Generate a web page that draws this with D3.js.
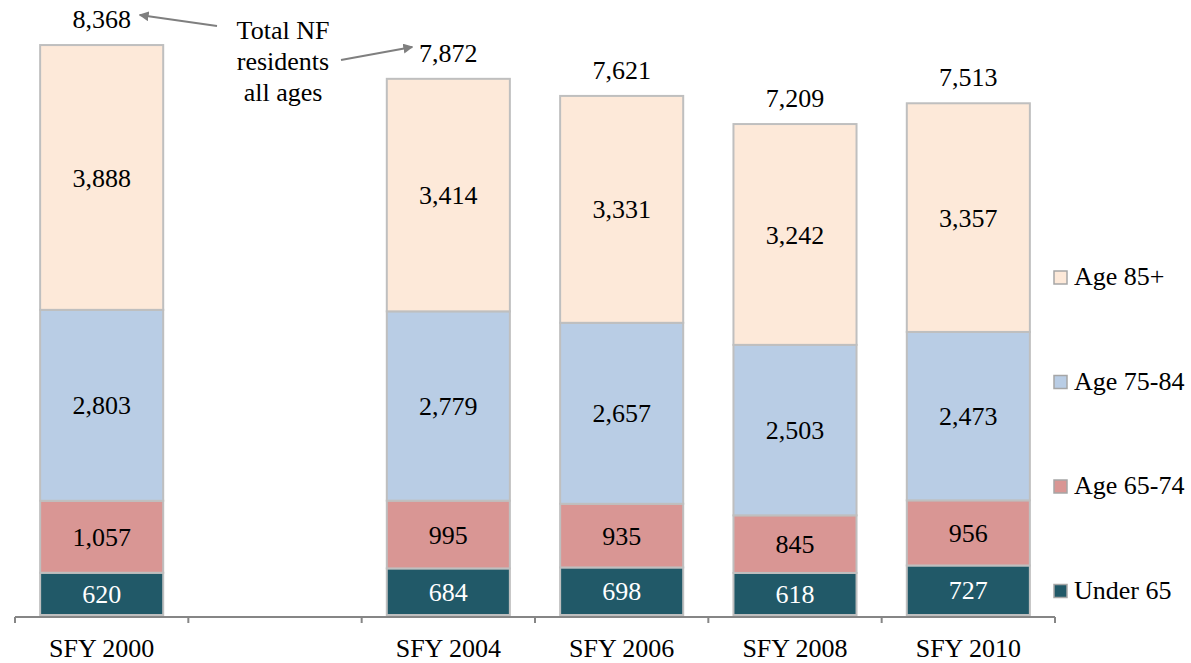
<!DOCTYPE html>
<html>
<head>
<meta charset="utf-8">
<script src="https://cdn.jsdelivr.net/npm/d3@7"></script>
<style>
  body { margin: 0; background: #fff; }
  svg text { font-family: 'Liberation Serif', 'Times New Roman', Times, 'DejaVu Serif', serif; }
</style>
</head>
<body>
<div id="chart"></div>
<script>
// categories (the second slot is an empty gap in the original chart)
const categories = ['SFY 2000', '', 'SFY 2004', 'SFY 2006', 'SFY 2008', 'SFY 2010'];
const under65 = [620, null, 684, 698, 618, 727];
const age6574 = [1057, null, 995, 935, 845, 956];
const age7584 = [2803, null, 2779, 2657, 2503, 2473];
const age85 = [3888, null, 3414, 3331, 3242, 3357];
const totals = [8368, null, 7872, 7621, 7209, 7513];

const seriesNames = ['Under 65', 'Age 65-74', 'Age 75-84', 'Age 85+'];
const seriesColors = ['#215968', '#d99694', '#b9cde5', '#fde9d9'];

const width = 1191;
const height = 663;
const margin = { top: 2, right: 135, bottom: 48, left: 15 };
const serif = "'Liberation Serif', 'Times New Roman', Times, serif";

const svg = d3.select('#chart').append('svg')
  .attr('width', width)
  .attr('height', height)
  .attr('font-family', serif);

const x = d3.scaleBand()
  .domain(categories)
  .range([margin.left, width - margin.right - 1])
  .paddingInner(0.29)
  .paddingOuter(0.145);

const y = d3.scaleLinear()
  .domain([0, 9000])
  .range([height - margin.bottom, margin.top]);

// build rows for stacking
const rows = categories.map((c, i) => ({
  cat: c,
  'Under 65': under65[i],
  'Age 65-74': age6574[i],
  'Age 75-84': age7584[i],
  'Age 85+': age85[i],
  total: totals[i]
})).filter(r => r.total !== null);

const stack = d3.stack().keys(seriesNames);
const layers = stack(rows);

const fmt = d3.format(',');

const groups = svg.append('g')
  .selectAll('g')
  .data(layers)
  .join('g')
  .attr('fill', (d, i) => seriesColors[i]);

groups.selectAll('rect')
  .data(d => d)
  .join('rect')
  .attr('x', d => x(d.data.cat))
  .attr('width', x.bandwidth())
  .attr('y', d => y(d[1]))
  .attr('height', d => y(d[0]) - y(d[1]))
  .attr('stroke', '#bfbfbf')
  .attr('stroke-width', 2);

// segment labels
layers.forEach((layer, li) => {
  svg.append('g')
    .selectAll('text')
    .data(layer)
    .join('text')
    .attr('x', d => x(d.data.cat) + x.bandwidth() / 2)
    .attr('y', d => (y(d[0]) + y(d[1])) / 2)
    .attr('dy', '0.35em')
    .attr('text-anchor', 'middle')
    .attr('font-size', 26)
    .attr('fill', li === 0 ? '#ffffff' : '#000000')
    .text(d => fmt(d[1] - d[0]));
});

// totals above bars
svg.append('g')
  .selectAll('text')
  .data(rows)
  .join('text')
  .attr('x', d => x(d.cat) + x.bandwidth() / 2)
  .attr('y', d => y(d.total) - 17)
  .attr('text-anchor', 'middle')
  .attr('font-size', 26)
  .attr('fill', '#000')
  .text(d => fmt(d.total));

// x axis with ticks on band boundaries
const axisY = y(0) + 2;
const axis = svg.append('g');
axis.append('line')
  .attr('x1', x.range()[0]).attr('x2', x.range()[1])
  .attr('y1', axisY).attr('y2', axisY)
  .attr('stroke', '#868686').attr('stroke-width', 2);
const bounds = d3.range(categories.length + 1).map(i => x.range()[0] + i * x.step());
axis.selectAll('line.tick')
  .data(bounds)
  .join('line')
  .attr('class', 'tick')
  .attr('x1', d => d).attr('x2', d => d)
  .attr('y1', axisY).attr('y2', axisY + 6)
  .attr('stroke', '#868686').attr('stroke-width', 2);
axis.selectAll('text')
  .data(categories)
  .join('text')
  .attr('x', d => x(d) + x.bandwidth() / 2)
  .attr('y', axisY + 40)
  .attr('text-anchor', 'middle')
  .attr('font-size', 26)
  .text(d => d);

// legend (top to bottom: 85+, 75-84, 65-74, under 65)
const legendItems = seriesNames.map((n, i) => ({ name: n, color: seriesColors[i] })).reverse();
const legend = svg.append('g')
  .selectAll('g')
  .data(legendItems)
  .join('g')
  .attr('transform', (d, i) => `translate(1054,${285 + i * 104.5})`);
legend.append('rect')
  .attr('x', 0).attr('y', -14)
  .attr('width', 13).attr('height', 13)
  .attr('fill', d => d.color)
  .attr('stroke', '#a6a6a6')
  .attr('stroke-width', 1.5);
legend.append('text')
  .attr('x', 20)
  .attr('y', 0)
  .attr('font-size', 26)
  .text(d => d.name);

// annotation
const defs = svg.append('defs');
defs.append('marker')
  .attr('id', 'arrow')
  .attr('viewBox', '0 0 10 10')
  .attr('refX', 9).attr('refY', 5)
  .attr('markerWidth', 5).attr('markerHeight', 5)
  .attr('orient', 'auto')
  .append('path')
  .attr('d', 'M0,0 L10,5 L0,10 z')
  .attr('fill', '#7f7f7f');

const noteX = x('') + x.bandwidth() / 2 + 8;
const note = svg.append('text')
  .attr('x', noteX)
  .attr('text-anchor', 'middle')
  .attr('font-size', 26);
['Total NF', 'residents', 'all ages'].forEach((t, i) => {
  note.append('tspan').attr('x', noteX).attr('y', 39 + i * 31).text(t);
});

svg.append('line')
  .attr('x1', noteX - 66).attr('y1', 26)
  .attr('x2', x(categories[0]) + x.bandwidth() / 2 + 38).attr('y2', 15)
  .attr('stroke', '#7f7f7f').attr('stroke-width', 2)
  .attr('marker-end', 'url(#arrow)');
svg.append('line')
  .attr('x1', noteX + 58).attr('y1', 60)
  .attr('x2', x(categories[2]) + x.bandwidth() / 2 - 36).attr('y2', 47)
  .attr('stroke', '#7f7f7f').attr('stroke-width', 2)
  .attr('marker-end', 'url(#arrow)');
</script>
</body>
</html>
